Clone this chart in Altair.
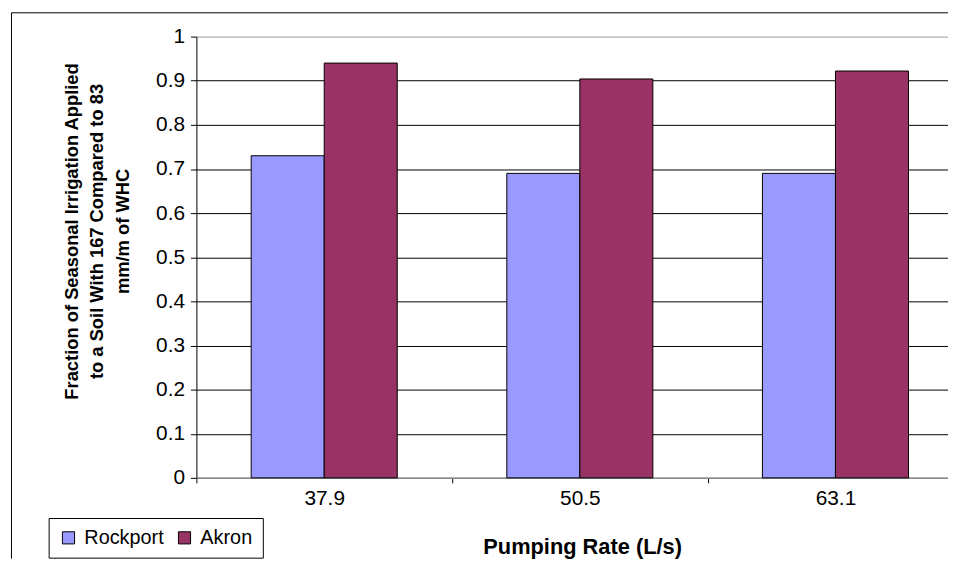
import altair as alt
import pandas as pd

categories = ["37.9", "50.5", "63.1"]
series = ["Rockport", "Akron"]
rockport = [0.73, 0.69, 0.69]
akron = [0.94, 0.904, 0.922]
y_ticks = [0, 0.1, 0.2, 0.3, 0.4, 0.5, 0.6, 0.7, 0.8, 0.9, 1]
colors = ["#9999FF", "#993366"]

rows = []
for i, c in enumerate(categories):
    rows.append({"rate": c, "site": "Rockport", "frac": rockport[i]})
    rows.append({"rate": c, "site": "Akron", "frac": akron[i]})
df = pd.DataFrame(rows)

FONT = "Liberation Sans"
W, H = 758, 445
PAD_BOTTOM = 81.5

bars = alt.Chart(df).mark_bar(stroke="black", strokeWidth=1).encode(
    x=alt.X(
        "rate:N",
        sort=categories,
        scale=alt.Scale(range=[0, 773.4], paddingInner=0, paddingOuter=0),
        axis=alt.Axis(
            title="Pumping Rate (L/s)",
            titleFont=FONT, titleFontSize=22, titleFontWeight="bold", titleColor="black",
            titleX=389, titleY=69, titleBaseline="middle", titleAlign="center",
            labelFont=FONT, labelFontSize=21, labelColor="black", labelAngle=0,
            labelPadding=5, tickBand="extent", tickSize=5, tickColor="black",
            domainColor="#888888", domainWidth=1.5, grid=False,
        ),
    ),
    xOffset=alt.XOffset("site:N", sort=series,
                        scale=alt.Scale(paddingInner=0, paddingOuter=0.75)),
    y=alt.Y(
        "frac:Q",
        scale=alt.Scale(domain=[0, 1], nice=False),
        axis=alt.Axis(
            values=y_ticks,
            labelExpr="'' + datum.value",
            title=["Fraction of Seasonal Irrigation Applied",
                   "to a Soil With 167 Compared to 83",
                   "mm/m of WHC"],
            titleFont=FONT, titleFontSize=18.5, titleFontWeight="bold", titleColor="black",
            titleAngle=270, titleX=-126, titleY=196, titleBaseline="middle",
            titleAlign="center", titleLineHeight=25.8,
            labelFont=FONT, labelFontSize=21, labelColor="black",
            labelPadding=6, tickSize=6, tickColor="black",
            domainColor="black", domainWidth=1,
            grid=True,
            gridColor={"condition": {"test": "datum.value === 1", "value": "#999999"},
                       "value": "black"},
            gridWidth=1,
        ),
    ),
    color=alt.Color(
        "site:N", sort=series,
        scale=alt.Scale(domain=series, range=colors),
        legend=alt.Legend(
            title=None, orient="none", legendX=-149, legendY=485.5,
            direction="horizontal", columns=2,
            strokeColor="black", fillColor="white", padding=10,
            symbolType="square", symbolSize=150, symbolStrokeColor="black",
            symbolStrokeWidth=1, symbolOpacity=1,
            labelFont=FONT, labelFontSize=20, labelColor="black",
            labelOffset=6, columnPadding=10,
        ),
    ),
)

one = pd.DataFrame({"k": [0]})
frame_left = alt.Chart(one).mark_rule(color="black", strokeWidth=1, clip=False).encode(
    x=alt.value(-186.5), y=alt.value(-24), y2=alt.value(H + PAD_BOTTOM),
)
frame_top = alt.Chart(one).mark_rule(color="black", strokeWidth=1, clip=False).encode(
    x=alt.value(-186.5), x2=alt.value(W), y=alt.value(-24),
)

chart = alt.layer(frame_left, frame_top, bars).properties(
    width=W, height=H,
    autosize=alt.AutoSizeParams(type="none"),
    padding={"left": 190, "top": 26.5, "right": 0, "bottom": PAD_BOTTOM},
    background="white",
).configure_view(strokeWidth=0)

chart.save("out.html", embed_options={"renderer": "svg", "actions": False})
